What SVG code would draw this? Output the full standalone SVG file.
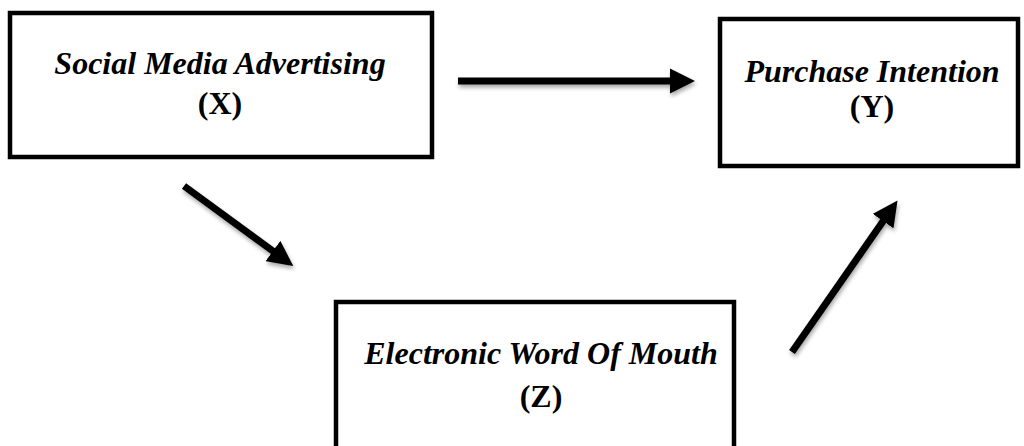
<svg xmlns="http://www.w3.org/2000/svg" width="1024" height="446" viewBox="0 0 1024 446">
<style>
.box{fill:#fff;stroke:#000;stroke-width:4.5}
.t{font-family:"Liberation Serif","Times New Roman",serif;font-weight:bold;font-size:32px;fill:#000;text-anchor:middle}
.i{font-style:italic}
.c{stroke:#000;stroke-width:7;fill:none}
</style>
<defs>
<marker id="ah" viewBox="0 0 10 10" refX="2" refY="5" markerWidth="3.6" markerHeight="3.6" markerUnits="strokeWidth" orient="auto">
<path d="M0,0 L10,5 L0,10 Z" fill="#000"/>
</marker>
<filter id="sh" x="-10%" y="-30%" width="130%" height="180%">
<feGaussianBlur in="SourceAlpha" stdDeviation="2"/>
<feOffset dx="1" dy="3"/>
<feComponentTransfer><feFuncA type="linear" slope="0.35"/></feComponentTransfer>
<feMerge><feMergeNode/><feMergeNode in="SourceGraphic"/></feMerge>
</filter>
</defs>
<rect width="1024" height="446" fill="#fff"/>
<g id="node-x">
<rect class="box" x="10" y="13" width="422" height="144"/>
<text class="t i" x="220" y="74">Social Media Advertising</text>
<text class="t" x="220" y="114">(X)</text>
</g>
<g id="node-y">
<rect class="box" x="720" y="19" width="298" height="147"/>
<text class="t i" x="872" y="82">Purchase Intention</text>
<text class="t" x="872" y="117">(Y)</text>
</g>
<g id="node-z">
<rect class="box" x="336" y="302" width="398" height="160"/>
<text class="t i" x="541" y="364">Electronic Word Of Mouth</text>
<text class="t" x="541" y="407">(Z)</text>
</g>
<g id="connectors" filter="url(#sh)">
<line class="c" x1="458" y1="81" x2="675" y2="81" marker-end="url(#ah)"/>
<line class="c" x1="184" y1="186" x2="277" y2="254" marker-end="url(#ah)"/>
<line class="c" x1="792" y1="352" x2="886" y2="217" marker-end="url(#ah)"/>
</g>
</svg>
